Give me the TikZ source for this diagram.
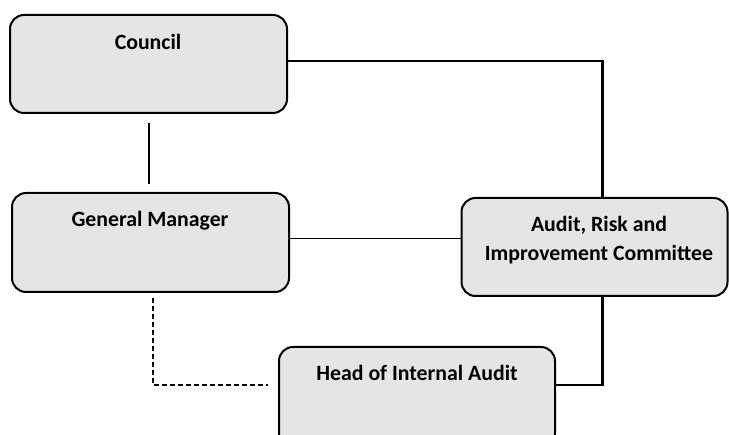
\documentclass[tikz,border=0pt]{standalone}
\usepackage{fontspec}
\setmainfont{Carlito}
\begin{document}
\begin{tikzpicture}[x=1pt,y=-1pt,
  box/.style={draw=black, line width=2pt, fill=black!10, rounded corners=14pt, inner sep=0pt},
  lbl/.style={font=\fontsize{21.8}{29}\selectfont\bfseries, align=center, inner sep=0pt},
  conn/.style={line width=2.2pt},
  thin/.style={line width=1.4pt},
  dashline/.style={line width=2pt, dash pattern=on 5pt off 3pt}]
\useasboundingbox (0,0) rectangle (729,435);
\node[box, minimum width=277pt, minimum height=98pt] (council) at (148.5,64) {};
\node[box, minimum width=277pt, minimum height=99pt] (gm) at (150.5,242.5) {};
\node[box, minimum width=266pt, minimum height=98pt] (aric) at (594.5,247) {};
\node[box, minimum width=276pt, minimum height=100pt] (hia) at (417,397) {};
\node[lbl] (tcouncil) at (148,42) {Council};
\node[lbl] (tgm) at (150,221) {General Manager};
\node[lbl] (taric) at (599,240) {Audit, Risk and\\Improvement Committee};
\node[lbl] (thia) at (417,373) {Head of Internal Audit};
\coordinate (c1) at (149,123);
\coordinate (c2) at (149,184);
\draw[thin] (c1) -- (c2);
\draw[conn] ([yshift=3pt]council.east) -| ([xshift=8pt]aric.north);
\draw[thin] ([yshift=4pt]gm.east) -- ([yshift=4pt]gm.east -| aric.west);
\draw[conn] ([xshift=8pt]aric.south) |- ([yshift=12pt]hia.east);
\coordinate (d1) at (153,298);
\coordinate (d2) at (268,385);
\draw[dashline] (d1) |- (d2);
\end{tikzpicture}
\end{document}
